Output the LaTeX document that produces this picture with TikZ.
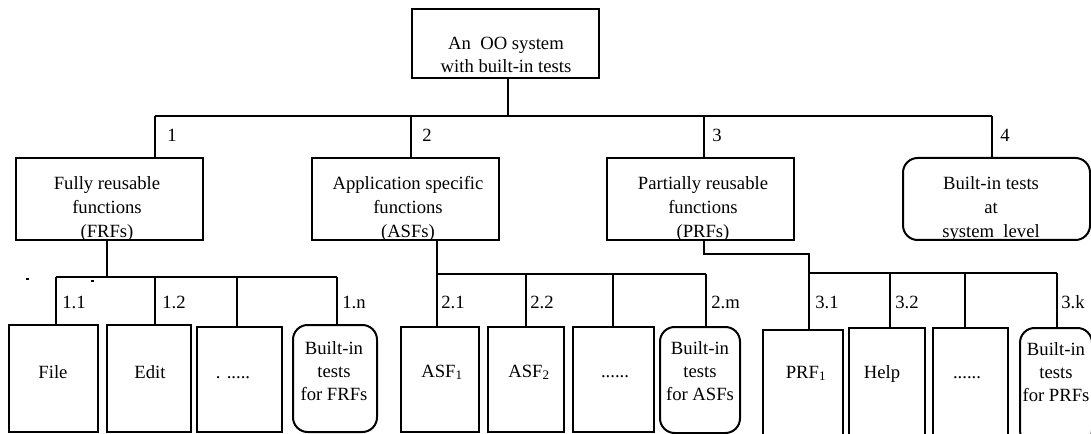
\documentclass[tikz,border=0pt]{standalone}
\usepackage{fontspec}
\setmainfont{Liberation Serif}
\begin{document}
\begin{tikzpicture}[x=0.75pt,y=-0.75pt,
  font=\fontsize{14}{17}\selectfont,
  blk/.style={draw, line width=1.5pt, inner sep=0pt, outer sep=0pt},
  rblk/.style={blk, rounded corners=11pt},
  txt/.style={inner sep=0pt, align=center},
  txtA/.style={txt, font=\fontsize{14}{18}\selectfont},
  num/.style={inner sep=0pt, anchor=west},
  wire/.style={line width=1.3pt},
  topwire/.style={line width=1.1pt}]
\useasboundingbox (0,0) rectangle (1091,434);

% box given by its corners in the drawing's pixel grid
\newcommand\placebox[6][blk]{%
  \node[#1, anchor=north west,
        minimum width={(#5-#3)*0.75pt},
        minimum height={(#6-#4)*0.75pt}] (#2) at (#3,#4) {};}

% ---- level 0 ----
\placebox{top}{412}{9}{599}{78}
\node[txt] (ttop) at (506,55) {An\ \ OO system\\with built-in tests};

% ---- level 1 ----
\placebox{frf}{16}{158}{203}{240}
\placebox{asf}{312}{158}{499}{240}
\placebox{prf}{607}{158}{794}{240}
\placebox[rblk]{sys}{903}{158}{1090}{240}
\node[txtA] (tfrf) at (107,209) {Fully reusable\\functions\\(FRFs)};
\node[txtA] (tasf) at (408,209) {Application specific\\functions\\(ASFs)};
\node[txtA] (tprf) at (703,209) {Partially reusable\\functions\\(PRFs)};
\node[txtA] (tsys) at (991,209) {Built-in tests\\at\\system\ \ level};

% ---- level 2: FRFs ----
\placebox{file}{9}{325}{98}{432}
\placebox{edit}{107}{325}{191}{432}
\placebox{fdots}{197}{327}{282}{432}
\placebox[rblk]{fbit}{293}{325}{377}{432}
\node[txt, anchor=base] (tfile) at (53,378) {File};
\node[txt, anchor=base] (tedit) at (150,378) {Edit};
\node[txt, anchor=base] (tfdots) at (233,378) {. .....};
\node[txt] (tfbit) at (334,371) {Built-in\\tests\\for FRFs};

% ---- level 2: ASFs ----
\placebox{asfa}{401}{327}{479}{432}
\placebox{asfb}{488}{327}{564}{432}
\placebox{adots}{573}{327}{654}{432}
\placebox[rblk]{abit}{660}{327}{740}{433}
\node[txt, anchor=base] (tasfa) at (442,377) {ASF\textsubscript{1}};
\node[txt, anchor=base] (tasfb) at (529,377) {ASF\textsubscript{2}};
\node[txt, anchor=base] (tadots) at (615,377) {......};
\node[txt] (tabit) at (700,371) {Built-in\\tests\\for ASFs};

% ---- level 2: PRFs ----
\placebox{prfa}{763}{330}{843}{440}
\placebox{help}{849}{328}{925}{440}
\placebox{pdots}{933}{328}{1008}{440}
\placebox[rblk]{pbit}{1020}{328}{1092}{445}
\node[txt, anchor=base] (tprfa) at (806,378) {PRF\textsubscript{1}};
\node[txt, anchor=base] (thelp) at (882,378) {Help};
\node[txt, anchor=base] (tpdots) at (967,378) {......};
\node[txt] (tpbit) at (1056,372) {Built-in\\tests\\for PRFs};

% ---- connectors: level 0 -> 1 ----
\coordinate (d1) at (155,116);
\coordinate (d2) at (411,116);
\coordinate (d3) at (704,116);
\coordinate (d4) at (992,116);
\coordinate (d0) at (508,116);
\draw[topwire] (top.south -| d0) -- (d0);
\draw[wire] (d1) -- (d4);
\draw[topwire] (d1) -- (d1 |- frf.north);
\draw[topwire] (d2) -- (d2 |- asf.north);
\draw[topwire] (d3) -- (d3 |- prf.north);
\draw[topwire] (d4) -- (d4 |- sys.north);
\node[num] (n1) at (167,135) {1};
\node[num] (n2) at (422,135) {2};
\node[num] (n3) at (712,135) {3};
\node[num] (n4) at (1000,135) {4};

% ---- connectors: FRFs ----
\coordinate (f0) at (107,277);
\coordinate (f1) at (56,277);
\coordinate (f2) at (155,277);
\coordinate (f3) at (237,277);
\coordinate (f4) at (337,277);
\draw[wire] (frf.south -| f0) -- (f0);
\draw[wire] (f1) -- (f4);
\draw[wire] (f1) -- (f1 |- file.north);
\draw[wire] (f2) -- (f2 |- edit.north);
\draw[wire] (f3) -- (f3 |- fdots.north);
\draw[wire] (f4) -- (f4 |- fbit.north);
\node[num] (n11) at (62,302) {1.1};
\node[num] (n12) at (162,302) {1.2};
\node[num] (n1n) at (342,302) {1.n};
\fill (26,278) rectangle (28.5,280.5);
\fill (91,280) rectangle (93.5,282.5);

% ---- connectors: ASFs ----
\coordinate (a1) at (437,274);
\coordinate (a2) at (526,274);
\coordinate (a3) at (613,274);
\coordinate (a4) at (706,274);
\draw[wire] (asf.south -| a1) -- (a1);
\draw[wire] (a1) -- (a4);
\draw[wire] (a1) -- (a1 |- asfa.north);
\draw[wire] (a2) -- (a2 |- asfb.north);
\draw[wire] (a3) -- (a3 |- adots.north);
\draw[wire] (a4) -- (a4 |- abit.north);
\node[num] (n21) at (441,302) {2.1};
\node[num] (n22) at (530,302) {2.2};
\node[num] (n2m) at (711,302) {2.m};

% ---- connectors: PRFs ----
\coordinate (p0) at (704,254);
\coordinate (p1) at (809,273);
\coordinate (p2) at (890,273);
\coordinate (p3) at (965,273);
\coordinate (p4) at (1057,273);
\draw[wire] (prf.south -| p0) -- (p0) -| (p1);
\draw[wire] (p1) -- (p4);
\draw[wire] (p1) -- (p1 |- prfa.north);
\draw[wire] (p2) -- (p2 |- help.north);
\draw[wire] (p3) -- (p3 |- pdots.north);
\draw[wire] (p4) -- (p4 |- pbit.north);
\node[num] (n31) at (815,302) {3.1};
\node[num] (n32) at (895,302) {3.2};
\node[num] (n3k) at (1061,302) {3.k};
\end{tikzpicture}
\end{document}
